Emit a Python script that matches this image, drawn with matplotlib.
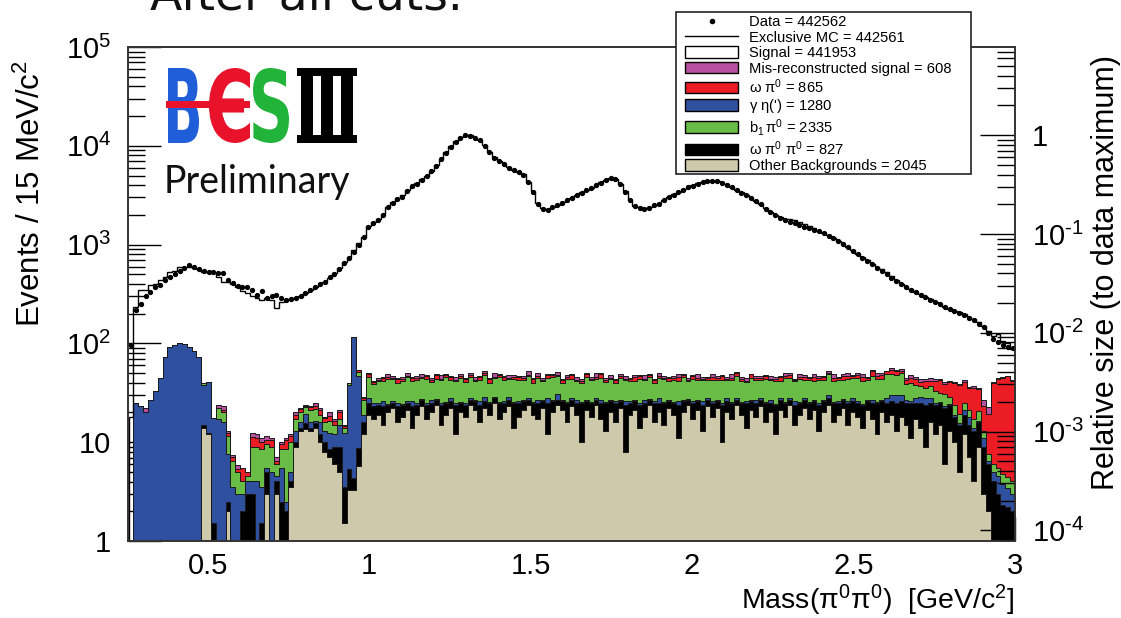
import numpy as np
import matplotlib
matplotlib.use('Agg')
import matplotlib.pyplot as plt
from matplotlib.lines import Line2D
from matplotlib.patches import Patch, PathPatch, Rectangle
from matplotlib.textpath import TextPath
from matplotlib.font_manager import FontProperties
from matplotlib.transforms import Affine2D
from matplotlib.ticker import MultipleLocator, LogLocator, FuncFormatter, NullFormatter

plt.rcParams['font.family'] = ['Liberation Sans', 'DejaVu Sans']
plt.rcParams['mathtext.fontset'] = 'custom'
plt.rcParams['mathtext.rm'] = 'Liberation Sans'
plt.rcParams['mathtext.it'] = 'Liberation Sans:italic'
plt.rcParams['mathtext.bf'] = 'Liberation Sans:bold'

# 15 MeV/c^2 bins from 0.255 to 3.0 GeV/c^2
mass_lo, bin_width, n_bins = 0.255, 0.015, 183
edges = mass_lo + bin_width * np.arange(n_bins + 1)
centers = 0.5 * (edges[:-1] + edges[1:])

data = [96, 218, 250, 300, 335, 370, 390, 438, 470, 500,
        545, 578, 622, 598, 567, 545, 532, 525, 518, 512,
        440, 410, 385, 375, 370, 345, 309, 342, 286, 300,
        309, 290, 275, 280, 286, 300, 321, 345, 370, 395,
        420, 470, 504, 570, 646, 740, 848, 1000, 1200, 1500,
        1650, 1780, 2000, 2400, 2650, 2900, 3050, 3500, 3900, 4150,
        4550, 4900, 5500, 6300, 7300, 8500, 9800, 11000, 12100, 12800,
        12700, 12000, 11500, 10000, 8600, 7600, 7000, 6500, 6000, 5650,
        5400, 5100, 4300, 3400, 2600, 2300, 2250, 2400, 2500, 2650,
        2800, 2950, 3150, 3350, 3550, 3750, 4000, 4250, 4500, 4700,
        4600, 4100, 3400, 2800, 2450, 2350, 2300, 2350, 2500, 2600,
        2800, 3000, 3200, 3400, 3600, 3800, 3950, 4150, 4300, 4380,
        4420, 4380, 4250, 4050, 3800, 3550, 3350, 3150, 2950, 2750,
        2550, 2300, 2120, 1980, 1850, 1760, 1690, 1640, 1580, 1520,
        1470, 1420, 1360, 1300, 1230, 1160, 1080, 1010, 940, 870,
        800, 740, 690, 630, 580, 540, 500, 460, 425, 395,
        370, 350, 328, 310, 292, 276, 262, 248, 234, 222,
        212, 204, 196, 182, 172, 158, 145, 128, 112, 104,
        97, 93, 89]

exclusive_mc = [18, 235, 347, 350, 390, 400, 438, 470, 532, 540,
                598, 600, 598, 580, 560, 532, 530, 510, 470, 420,
                420, 400, 375, 340, 321, 300, 286, 275, 290, 275,
                226, 260, 270, 282, 290, 300, 320, 350, 375, 400,
                420, 460, 520, 580, 660, 750, 880, 1050, 1200, 1550,
                1700, 1820, 2050, 2380, 2700, 2950, 3150, 3550, 3950, 4200,
                4600, 4950, 5550, 6350, 7400, 8600, 9900, 11100, 12200, 12900,
                12800, 12100, 11400, 10100, 8700, 7700, 7050, 6550, 6050, 5700,
                5450, 5150, 4350, 3450, 2650, 2350, 2270, 2420, 2520, 2700,
                2850, 2980, 3180, 3400, 3600, 3780, 4050, 4300, 4550, 4720,
                4620, 4150, 3450, 2850, 2480, 2380, 2320, 2380, 2530, 2650,
                2830, 3020, 3250, 3420, 3620, 3820, 3980, 4170, 4320, 4400,
                4440, 4400, 4270, 4070, 3820, 3580, 3370, 3170, 2980, 2770,
                2570, 2330, 2150, 2010, 1900, 1830, 1800, 1760, 1700, 1620,
                1540, 1460, 1380, 1310, 1240, 1170, 1090, 1020, 950, 880,
                810, 750, 695, 640, 590, 560, 525, 480, 435, 400,
                375, 352, 330, 318, 298, 280, 264, 250, 236, 225,
                214, 206, 198, 186, 175, 165, 150, 132, 120, 125,
                105, 100, 88]

other_bkg = [0, 0, 0, 0, 0, 0, 0, 0, 0.3, 0.3,
             0, 0, 0, 0, 0, 14, 12, 1, 0, 0,
             2, 0, 0, 0.5, 1, 0, 0, 1, 3, 0,
             3, 0.5, 1, 3.5, 9, 13, 13.5, 13, 14, 10,
             8, 7, 6, 5, 1.5, 3.3, 3.3, 5.7, 12, 19,
             17, 19, 15, 20, 22, 16, 18, 21, 14, 19,
             23, 17, 20, 24, 15, 19, 22, 12, 20, 18,
             24, 21, 16, 22, 19, 25, 17, 20, 23, 14,
             18, 21, 24, 19, 17, 22, 12, 20, 24, 21,
             16, 23, 19, 10, 21, 18, 24, 17, 13, 20,
             16, 22, 8, 19, 21, 14, 18, 24, 16, 20,
             15, 22, 19, 11, 20, 24, 17, 21, 13, 23,
             18, 22, 10, 20, 17, 24, 19, 14, 21, 18,
             23, 16, 20, 12, 21, 18, 24, 15, 19, 22,
             17, 21, 13, 20, 24, 16, 19, 22, 15, 20,
             18, 14, 21, 17, 12, 20, 16, 19, 13, 18,
             15, 11, 17, 14, 9, 16, 12, 15, 6, 13,
             10, 5, 12, 7, 4, 9, 3, 2, 1, 0.5,
             0.3, 0, 0]

omega_pi0_pi0 = [0, 0, 0, 0, 0, 0, 0, 0, 0.3, 0.3,
                 0, 0, 0, 0, 0, 1, 0.5, 0.5, 0, 0,
                 0.5, 0.5, 1, 1.5, 2, 3, 1, 0.5, 2, 1,
                 1, 2, 1, 0.5, 1, 1, 2, 1, 1.5, 2,
                 2, 1.5, 3, 4, 2, 2, 1, 3, 4, 6,
                 6, 5, 8, 4, 3, 7, 6, 4, 9, 5,
                 4, 7, 5, 3, 9, 6, 4, 12, 5, 6,
                 3, 5, 8, 4, 6, 3, 8, 5, 4, 11,
                 7, 5, 3, 6, 8, 4, 13, 6, 3, 5,
                 9, 4, 6, 15, 5, 7, 3, 8, 12, 6,
                 9, 4, 16, 6, 5, 10, 7, 3, 9, 5,
                 10, 4, 6, 13, 6, 3, 8, 5, 11, 4,
                 7, 4, 14, 6, 8, 3, 6, 11, 5, 7,
                 4, 9, 5, 12, 6, 7, 3, 9, 6, 5,
                 8, 5, 11, 6, 4, 9, 6, 5, 10, 6,
                 7, 10, 5, 8, 13, 6, 9, 7, 12, 8,
                 10, 14, 8, 11, 15, 9, 12, 10, 16, 11,
                 8, 10, 7, 8, 9, 7, 6, 4, 3, 2.5,
                 2, 2.2, 2]

gamma_eta = [0, 25, 23, 20, 27, 33, 45, 73, 92, 96,
             100, 99, 91, 84, 73, 23, 28, 16, 17, 16,
             5, 3, 2, 1, 1, 1, 3, 2, 0.5, 4,
             0.5, 3, 0.5, 1, 3, 2, 4, 2, 1, 4,
             3, 4, 3, 6, 9, 33, 111, 38, 3, 3,
             2, 1, 3, 0.5, 1, 2, 0.5, 1, 3, 1,
             0.5, 1, 2, 0.5, 1, 0.5, 2, 1, 0.5, 1,
             1, 0.5, 2, 3, 0.5, 1, 0.5, 1, 2, 0.5,
             1, 0.5, 1, 0.5, 2, 1, 3, 0.5, 4, 1,
             0.5, 1, 2, 0.5, 1, 0.5, 1, 2, 0.5, 1,
             1, 0.5, 2, 1, 0.5, 1, 2, 0.5, 1, 3,
             0.5, 1, 0.5, 2, 1, 0.5, 1, 0.5, 2, 1,
             1, 0.5, 1, 2, 0.5, 1, 0.5, 1, 0.5, 2,
             1, 0.5, 2, 0.5, 1, 0.5, 1, 2, 0.5, 1,
             0.5, 1, 1, 0.5, 2, 0.5, 1, 0.5, 1, 2,
             1, 0.5, 1, 2, 0.5, 1, 3, 4, 5, 4,
             2, 1, 3, 4, 4, 3, 1, 0.5, 1, 0.5,
             1, 0.5, 2, 3, 1, 0.5, 2, 0.5, 1, 1.5,
             1.5, 1.2, 1]

b1_pi0 = [0, 0, 0, 0, 0, 0, 0, 0, 0, 0,
          0, 0, 0, 0, 0, 2, 0.5, 0, 5, 4,
          4, 3, 2, 1, 0.5, 5, 5, 5, 4, 4,
          1.5, 3, 6, 5, 4, 4, 3, 5, 5, 3,
          3, 4, 3, 2, 1.5, 1, 1, 5, 8, 18,
          14, 17, 16, 19, 18, 15, 17, 20, 16, 18,
          17, 19, 14, 16, 18, 20, 15, 17, 19, 16,
          18, 15, 17, 19, 14, 16, 20, 17, 15, 18,
          17, 16, 19, 14, 18, 15, 17, 19, 16, 13,
          18, 16, 15, 14, 19, 17, 16, 18, 15, 17,
          14, 18, 17, 16, 15, 19, 16, 18, 14, 17,
          18, 15, 17, 16, 19, 14, 18, 16, 17, 15,
          17, 16, 18, 15, 17, 19, 16, 15, 18, 16,
          15, 18, 16, 17, 14, 19, 17, 16, 18, 15,
          17, 15, 18, 16, 19, 16, 17, 15, 18, 17,
          19, 17, 16, 20, 18, 17, 21, 19, 18, 20,
          12, 14, 10, 8, 7, 9, 8, 6, 8, 4,
          5, 4, 4, 3, 3, 4, 2, 1, 1, 1,
          1, 1, 1]

omega_pi0 = [0, 0, 0, 0, 0, 0, 0, 0, 0, 0,
             0, 0, 0, 0, 0, 0, 0, 0, 0, 1,
             1, 0.5, 0.3, 1.5, 0.5, 2.3, 2, 1.5, 1, 1.5,
             0.5, 1, 2, 1.5, 2, 1.5, 1, 1.5, 2, 2,
             1.5, 2, 1.5, 3, 0.5, 0.5, 0.5, 2, 1, 3,
             2, 1, 3, 2, 1, 4, 2, 1, 3, 2,
             1, 3, 2, 4, 1, 2, 3, 1, 2, 3,
             2, 1, 3, 2, 4, 1, 2, 3, 1, 2,
             3, 2, 1, 4, 2, 1, 3, 2, 1, 3,
             2, 4, 1, 2, 3, 1, 2, 4, 2, 1,
             3, 2, 1, 2, 4, 3, 1, 2, 3, 2,
             1, 3, 2, 4, 2, 1, 3, 2, 1, 2,
             3, 2, 4, 1, 2, 3, 2, 1, 4, 2,
             2, 3, 1, 2, 4, 2, 3, 1, 2, 3,
             2, 4, 2, 3, 1, 3, 2, 4, 3, 2,
             3, 4, 2, 5, 3, 4, 3, 5, 4, 3,
             4, 5, 6, 4, 7, 5, 9, 11, 8, 12,
             16, 18, 16, 14, 18, 14, 10, 12, 34, 38,
             40, 42, 38]

misrec_signal = [0, 0, 0, 2, 0, 0, 0, 0, 0, 0,
                 0, 0, 0, 0, 0, 0, 0, 0, 2, 2,
                 0.5, 0.4, 0.6, 0, 0, 1, 1, 1, 1, 0.5,
                 0.5, 0.5, 0.5, 0.5, 1, 0.5, 0.5, 0.5, 1.5, 1,
                 0.5, 1.5, 0.5, 1, 0.5, 0.2, 0.2, 0.3, 0.5, 1,
                 1, 2, 1, 3, 2, 1, 2, 3, 1, 2,
                 3, 1, 2, 1, 4, 2, 1, 3, 2, 1,
                 2, 3, 1, 2, 1, 4, 2, 1, 3, 2,
                 1, 2, 4, 1, 3, 2, 1, 2, 3, 1,
                 2, 1, 3, 2, 1, 2, 4, 1, 2, 3,
                 1, 2, 3, 1, 2, 1, 4, 2, 1, 3,
                 2, 1, 2, 3, 1, 2, 1, 4, 2, 1,
                 3, 2, 1, 2, 4, 1, 2, 3, 1, 2,
                 2, 1, 3, 2, 1, 4, 2, 1, 3, 2,
                 1, 3, 2, 1, 2, 4, 1, 2, 3, 1,
                 2, 3, 1, 2, 4, 2, 1, 3, 2, 2,
                 2, 3, 2, 3, 2, 3, 2, 1, 2, 1,
                 1, 1, 2, 1, 2, 1, 4, 3, 1, 1,
                 1, 0.5, 0.5]

legend_names = ['Data', 'Exclusive MC', 'Signal', 'Mis-reconstructed signal',
                r'$\mathrm{\omega\ \pi^0}$', r"$\mathrm{\gamma\ \eta}$(')",
                r'$\mathrm{b_1\,\pi^0}$', r'$\mathrm{\omega\ \pi^0\ \pi^0}$',
                'Other Backgrounds']
legend_counts = [442562, 442561, 441953, 608, 865, 1280, 2335, 827, 2045]

col_other = '#cec9ab'
col_wpp = '#000000'
col_geta = '#2f4f9f'
col_b1 = '#69bd46'
col_wp = '#ec1c24'
col_mis = '#b7519f'

W, H = 1121, 618
fig = plt.figure(figsize=(W / 100, H / 100), dpi=100)
ax = fig.add_axes([128 / W, 77 / H, 887 / W, 494 / H])
ax.set_yscale('log')
ax.set_xlim(0.253, 3.0)
ax.set_ylim(1, 1e5)

# stacked backgrounds, bottom layer first
layers = [(other_bkg, col_other), (omega_pi0_pi0, col_wpp), (gamma_eta, col_geta),
          (b1_pi0, col_b1), (omega_pi0, col_wp), (misrec_signal, col_mis)]
bottom = np.full(n_bins, 1e-2)
for vals, col in layers:
    top = bottom + np.asarray(vals, dtype=float)
    ax.stairs(top, edges, baseline=bottom, fill=True, facecolor=col,
              edgecolor='#1a1a1a', linewidth=0.7, zorder=2)
    bottom = top

ax.stairs(exclusive_mc, edges, baseline=1e-2, color='black', linewidth=1.0, zorder=3)
ax.plot(centers, data, 'o', ms=2.8, color='black', zorder=4)

def left_fmt(v, pos):
    if v <= 1.5:
        return '1'
    if v <= 15:
        return '10'
    return r'$10^{%d}$' % round(np.log10(v))

def right_fmt(v, pos):
    if abs(v - 1) < 1e-6:
        return '1'
    return r'$10^{\text{-}%d}$' % round(-np.log10(v))

ax.xaxis.set_major_locator(MultipleLocator(0.5))
ax.xaxis.set_minor_locator(MultipleLocator(0.1))
ax.xaxis.set_major_formatter(FuncFormatter(lambda v, p: f'{v:g}'))
ax.yaxis.set_major_locator(LogLocator(base=10, numticks=10))
ax.yaxis.set_minor_locator(LogLocator(base=10, subs=np.arange(2, 10), numticks=20))
ax.yaxis.set_major_formatter(FuncFormatter(left_fmt))
ax.yaxis.set_minor_formatter(NullFormatter())
ax.tick_params(axis='x', which='major', direction='in', length=17, width=1,
               labelsize=21, pad=8, top=False)
ax.tick_params(axis='x', which='minor', direction='in', length=8, width=1, top=False)
ax.tick_params(axis='y', which='major', direction='in', length=24, width=1,
               labelsize=21, pad=12, right=False)
ax.tick_params(axis='y', which='minor', direction='in', length=12, width=1, right=False)

# right axis: size relative to the data maximum
ax2 = ax.twinx()
ax2.set_yscale('log')
data_max = max(data)
ax2.set_ylim(1 / data_max, 1e5 / data_max)
ax2.yaxis.set_major_locator(LogLocator(base=10, numticks=10))
ax2.yaxis.set_minor_locator(LogLocator(base=10, subs=np.arange(2, 10), numticks=20))
ax2.yaxis.set_major_formatter(FuncFormatter(right_fmt))
ax2.yaxis.set_minor_formatter(NullFormatter())
ax2.tick_params(axis='y', which='major', direction='in', length=25, width=1,
                labelsize=21, pad=12)
ax2.tick_params(axis='y', which='minor', direction='in', length=13, width=1)

for a in (ax, ax2):
    for sp in a.spines.values():
        sp.set_linewidth(1.2)
        sp.set_color('#333333')

ax.set_ylabel('Events / 15 MeV/c$^2$', fontsize=22.5, loc='top')
ax.yaxis.set_label_coords(-0.091, 0.974)
ax2.set_ylabel('Relative size (to data maximum)', fontsize=22, loc='top')
ax2.yaxis.set_label_coords(1.086, 0.984)
ax.set_xlabel(r'Mass($\mathrm{\pi^0\pi^0}$)  [GeV/c$^2$]', fontsize=20.5, loc='right')
ax.xaxis.set_label_coords(1.0, -0.084)

# overlay in pixel coordinates for legend box, logo and captions
ov = fig.add_axes([0, 0, 1, 1], zorder=10)
ov.set_xlim(0, W)
ov.set_ylim(H, 0)
ov.axis('off')

ov.add_patch(Rectangle((676, 12), 295, 162, facecolor='white', edgecolor='#222222',
                       linewidth=1.2, zorder=1))
handles = [Line2D([], [], marker='o', ms=3, ls='none', color='black'),
           Line2D([], [], color='black', lw=1.0),
           Patch(facecolor='white', edgecolor='black')]
for col in (col_mis, col_wp, col_geta, col_b1, col_wpp, col_other):
    handles.append(Patch(facecolor=col, edgecolor='black'))
labels = [f'{n} = {c}' for n, c in zip(legend_names, legend_counts)]
leg = ov.legend(handles, labels, loc='upper left', bbox_to_anchor=(683, 13),
                bbox_transform=ov.transData, fontsize=10.6, frameon=False,
                borderaxespad=0, borderpad=0.15, handlelength=3.6,
                handleheight=0.85, labelspacing=0.1, handletextpad=0.75)
leg.set_zorder(3)

def glyph(ch, box, color, family='DejaVu Sans', weight='bold'):
    path = TextPath((0, 0), ch, size=100, prop=FontProperties(family=family, weight=weight))
    ext = path.get_extents()
    x0, x1, y0, y1 = box
    tr = (Affine2D().translate(-ext.x0, -ext.y0)
          .scale((x1 - x0) / ext.width, -(y1 - y0) / ext.height)
          .translate(x0, y1))
    ov.add_patch(PathPatch(tr.transform_path(path), facecolor=color, edgecolor='none'))

glyph('B', (168, 199, 68, 143), '#1f5ed8')
glyph('\u0404', (209, 250, 68, 143), '#e8132b')
glyph('S', (253, 289, 68, 143), '#22b33a')
ov.add_patch(Rectangle((166, 101), 84, 7, facecolor='#e8132b', edgecolor='none'))
ov.add_patch(Rectangle((297, 68), 60, 8, facecolor='black', edgecolor='none'))
ov.add_patch(Rectangle((297, 135), 60, 8, facecolor='black', edgecolor='none'))
for sx in (301, 321, 341):
    ov.add_patch(Rectangle((sx, 68), 12, 75, facecolor='black', edgecolor='none'))

ov.text(164, 193, 'Preliminary', fontsize=27, family=['Lato', 'DejaVu Sans'],
        ha='left', va='baseline', color='#111111')
ov.text(150, 10, 'After all cuts.', fontsize=34, family=['DejaVu Sans'],
        ha='left', va='baseline', color='#111111')

fig.savefig('out.png', dpi=100)
